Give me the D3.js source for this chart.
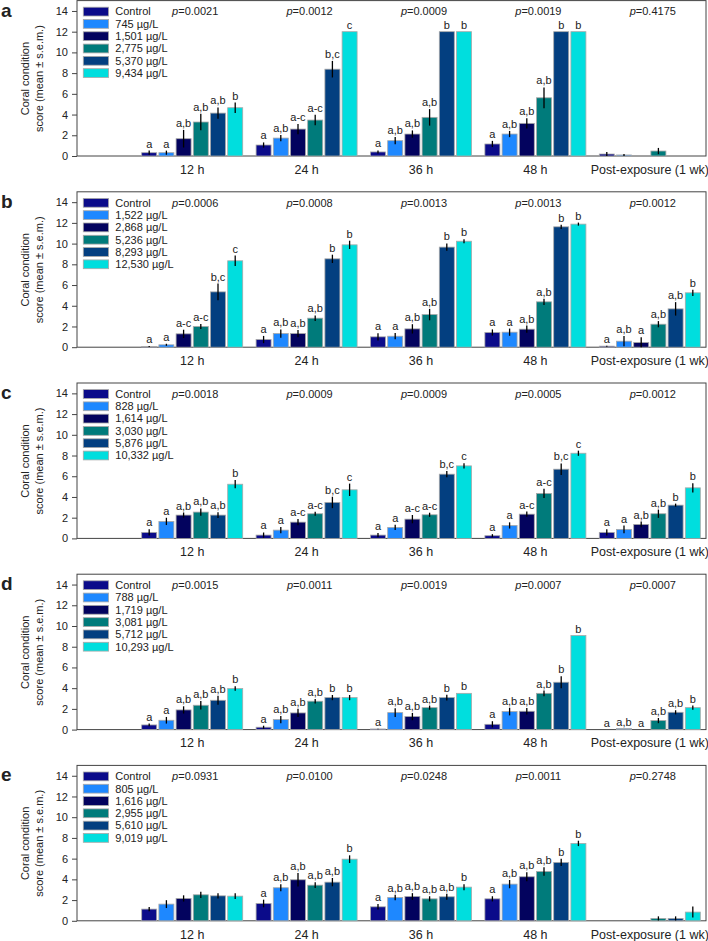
<!DOCTYPE html>
<html>
<head>
<meta charset="utf-8">
<script src="https://cdn.jsdelivr.net/npm/d3@7"></script>
<style>
  body { margin: 0; background: #fff; }
  text { font-family: "Liberation Sans", Arial, sans-serif; fill: #222; }
</style>
</head>
<body>
<div id="chart"></div>
<script>
// time points shared by all panels
const timepoints = ["12 h", "24 h", "36 h", "48 h", "Post-exposure (1 wk)"];
const panelLetters = ["a", "b", "c", "d", "e"];
const seriesColors = ["#0b0b8a", "#1e88ff", "#03035e", "#007b7b", "#033f80", "#00dede"];

// legend labels per panel
const concA = ["Control", "745 µg/L", "1,501 µg/L", "2,775 µg/L", "5,370 µg/L", "9,434 µg/L"];
const concB = ["Control", "1,522 µg/L", "2,868 µg/L", "5,236 µg/L", "8,293 µg/L", "12,530 µg/L"];
const concC = ["Control", "828 µg/L", "1,614 µg/L", "3,030 µg/L", "5,876 µg/L", "10,332 µg/L"];
const concD = ["Control", "788 µg/L", "1,719 µg/L", "3,081 µg/L", "5,712 µg/L", "10,293 µg/L"];
const concE = ["Control", "805 µg/L", "1,616 µg/L", "2,955 µg/L", "5,610 µg/L", "9,019 µg/L"];

// p-values per time point
const pA = ["0.0021", "0.0012", "0.0009", "0.0019", "0.4175"];
const pB = ["0.0006", "0.0008", "0.0013", "0.0013", "0.0012"];
const pC = ["0.0018", "0.0009", "0.0009", "0.0005", "0.0012"];
const pD = ["0.0015", "0.0011", "0.0019", "0.0007", "0.0007"];
const pE = ["0.0931", "0.0100", "0.0248", "0.0011", "0.2748"];

// means: rows = time points, cols = concentrations
const meanA = [
  [0.32, 0.32, 1.67, 3.28, 4.14, 4.66],
  [1.06, 1.73, 2.6, 3.47, 8.38, 12.0],
  [0.39, 1.48, 2.12, 3.73, 12.0, 12.0],
  [1.16, 2.12, 3.15, 5.62, 12.0, 12.0],
  [0.19, 0.1, 0, 0.48, 0, 0]
];
const errA = [
  [0.2, 0.2, 0.85, 0.8, 0.55, 0.5],
  [0.25, 0.3, 0.5, 0.5, 0.8, 0],
  [0.15, 0.35, 0.35, 0.8, 0, 0],
  [0.3, 0.3, 0.5, 1.0, 0, 0],
  [0.2, 0.1, 0, 0.3, 0, 0]
];
const letA = [
  ["a", "a", "a,b", "a,b", "a,b", "b"],
  ["a", "a,b", "a-c", "a-c", "b,c", "c"],
  ["a", "a,b", "a,b", "a,b", "b", "b"],
  ["a", "a,b", "a,b", "a,b", "b", "b"],
  ["", "", "", "", "", ""]
];

const meanB = [
  [0.06, 0.23, 1.29, 2.0, 5.34, 8.34],
  [0.74, 1.32, 1.32, 2.8, 8.53, 9.88],
  [1.0, 1.06, 1.77, 3.15, 9.66, 10.23],
  [1.42, 1.45, 1.74, 4.38, 11.62, 11.88],
  [0.1, 0.58, 0.45, 2.22, 3.7, 5.25]
];
const errB = [
  [0.05, 0.1, 0.4, 0.25, 0.8, 0.5],
  [0.35, 0.4, 0.35, 0.27, 0.4, 0.4],
  [0.35, 0.3, 0.45, 0.55, 0.35, 0.2],
  [0.3, 0.35, 0.35, 0.3, 0.2, 0.15],
  [0.05, 0.5, 0.5, 0.3, 0.65, 0.3]
];
const letB = [
  ["a", "a", "a-c", "a-c", "b,c", "c"],
  ["a", "a,b", "a,b", "a,b", "b", "b"],
  ["a", "a", "a,b", "a,b", "b", "b"],
  ["a", "a", "a,b", "a,b", "b", "b"],
  ["a", "a,b", "a", "a,b", "a,b", "b"]
];

const meanC = [
  [0.58, 1.64, 2.25, 2.54, 2.25, 5.23],
  [0.32, 0.8, 1.57, 2.38, 3.47, 4.69],
  [0.32, 1.06, 1.86, 2.28, 6.2, 7.0],
  [0.26, 1.25, 2.34, 4.34, 6.68, 8.22],
  [0.58, 0.87, 1.35, 2.38, 3.21, 4.88]
];
const errC = [
  [0.3, 0.35, 0.25, 0.35, 0.28, 0.4],
  [0.25, 0.3, 0.3, 0.2, 0.55, 0.6],
  [0.2, 0.25, 0.4, 0.2, 0.3, 0.25],
  [0.15, 0.3, 0.25, 0.45, 0.55, 0.25],
  [0.3, 0.37, 0.28, 0.4, 0.15, 0.45]
];
const letC = [
  ["a", "a", "a,b", "a,b", "a,b", "b"],
  ["a", "a", "a-c", "a-c", "b,c", "c"],
  ["a", "a", "a-c", "a-c", "b,c", "c"],
  ["a", "a", "a-c", "a-c", "b,c", "c"],
  ["a", "a", "a,b", "a,b", "b", "b"]
];

const meanD = [
  [0.45, 0.9, 1.9, 2.35, 2.83, 3.96],
  [0.23, 0.97, 1.61, 2.74, 3.09, 3.09],
  [0.06, 1.64, 1.26, 2.12, 3.09, 3.5],
  [0.51, 1.74, 1.77, 3.5, 4.57, 9.08],
  [0, 0.1, 0, 0.87, 1.67, 2.12]
];
const errD = [
  [0.13, 0.32, 0.35, 0.4, 0.43, 0.22],
  [0.15, 0.35, 0.4, 0.22, 0.25, 0.25],
  [0.03, 0.43, 0.35, 0.2, 0.28, 0],
  [0.3, 0.37, 0.32, 0.27, 0.58, 0],
  [0, 0, 0, 0.25, 0.2, 0.2]
];
const letD = [
  ["a", "a", "a,b", "a,b", "a,b", "b"],
  ["a", "a,b", "a,b", "a,b", "b", "b"],
  ["a", "a,b", "a,b", "a,b", "b", "b"],
  ["a", "a,b", "a,b", "a,b", "b", "b"],
  ["a", "a,b", "a", "a,b", "a,b", "b"]
];

const meanE = [
  [1.13, 1.61, 2.16, 2.51, 2.41, 2.38],
  [1.67, 3.19, 3.96, 3.44, 3.73, 5.95],
  [1.35, 2.25, 2.35, 2.12, 2.32, 3.25],
  [2.12, 3.54, 4.25, 4.76, 5.63, 7.47],
  [0, 0, 0, 0.23, 0.23, 0.84]
];
const errE = [
  [0.2, 0.38, 0.3, 0.3, 0.25, 0.27],
  [0.37, 0.33, 0.65, 0.27, 0.4, 0.37],
  [0.26, 0.27, 0.32, 0.25, 0.29, 0.29],
  [0.25, 0.4, 0.43, 0.42, 0.35, 0.26],
  [0, 0, 0, 0.2, 0.2, 0.53]
];
const letE = [
  ["", "", "", "", "", ""],
  ["a", "a,b", "a,b", "a,b", "a,b", "b"],
  ["a", "a,b", "a,b", "a,b", "a,b", "b"],
  ["a", "a,b", "a,b", "a,b", "b", "b"],
  ["", "", "", "", "", ""]
];

const yTicks = [0, 2, 4, 6, 8, 10, 12, 14];

const panels = [
  { conc: concA, mean: meanA, err: errA, lets: letA, p: pA },
  { conc: concB, mean: meanB, err: errB, lets: letB, p: pB },
  { conc: concC, mean: meanC, err: errC, lets: letC, p: pC },
  { conc: concD, mean: meanD, err: errD, lets: letD, p: pD },
  { conc: concE, mean: meanE, err: errE, lets: letE, p: pE }
];

const W = 708, H = 941;
const plotLeft = 77, plotRight = 706, plotH = 155.4, panelStep = 191.2;

const svg = d3.select("#chart").append("svg").attr("width", W).attr("height", H);

// outer band for time points, inner band for concentrations
const x = d3.scaleBand().domain(timepoints).range([135, 707]).paddingInner(0.117).paddingOuter(0.0585);
const xi = d3.scaleBand().domain(d3.range(6)).range([0, x.bandwidth()]).paddingInner(0.128);

panels.forEach((pn, pi) => {
  const top = 0.6 + pi * panelStep;
  const y = d3.scaleLinear().domain([0, 15]).range([top + plotH, top]);
  const g = svg.append("g");

  // frame
  g.append("rect")
    .attr("x", plotLeft).attr("y", top)
    .attr("width", plotRight - plotLeft).attr("height", plotH)
    .attr("fill", "none").attr("stroke", "#444").attr("stroke-width", 1);

  // y axis
  const ya = g.append("g").attr("transform", `translate(${plotLeft},0)`)
    .call(d3.axisLeft(y).tickValues(yTicks).tickSize(5).tickPadding(4).tickSizeOuter(0));
  ya.select(".domain").remove();
  ya.selectAll("line").attr("stroke", "#444");
  ya.selectAll("text").style("font-size", "11px").attr("fill", "#222");

  // x axis labels
  const xa = g.append("g").attr("transform", `translate(0,${top + plotH})`)
    .call(d3.axisBottom(x).tickSize(0).tickPadding(9));
  xa.select(".domain").remove();
  xa.selectAll("text").style("font-size", "12.5px").attr("fill", "#222");

  // y title
  const ym = top + 78;
  g.append("text").attr("transform", `translate(29,${ym}) rotate(-90)`)
    .attr("text-anchor", "middle").style("font-size", "11px").text("Coral condition");
  g.append("text").attr("transform", `translate(43,${ym}) rotate(-90)`)
    .attr("text-anchor", "middle").style("font-size", "11px").text("score (mean ± s.e.m.)");

  // panel letter
  g.append("text").attr("x", 1).attr("y", top + 16)
    .style("font-size", "19px").style("font-weight", "bold").attr("fill", "#111")
    .text(panelLetters[pi]);

  // bars
  timepoints.forEach((tp, ti) => {
    const grp = g.append("g").attr("transform", `translate(${x(tp)},0)`);
    pn.mean[ti].forEach((v, si) => {
      const bx = xi(si), bw = xi.bandwidth();
      if (v > 0) {
        grp.append("rect")
          .attr("x", bx).attr("y", y(v))
          .attr("width", bw).attr("height", y(0) - y(v))
          .attr("fill", seriesColors[si]).attr("stroke", "#a8a8a8").attr("stroke-width", 0.8);
      }
      const e = pn.err[ti][si];
      if (e > 0) {
        grp.append("line")
          .attr("x1", bx + bw / 2).attr("x2", bx + bw / 2)
          .attr("y1", y(Math.max(0, v - e))).attr("y2", y(v + e))
          .attr("stroke", "#000").attr("stroke-width", 1.3);
      }
      const lab = pn.lets[ti][si];
      if (lab) {
        grp.append("text")
          .attr("x", bx + bw / 2).attr("y", y(v + e) - 3)
          .attr("text-anchor", "middle").style("font-size", "11px")
          .text(lab);
      }
    });

    // p-value
    const pt = g.append("text")
      .attr("x", x(tp) + x.bandwidth() / 2 + 3).attr("y", top + 11)
      .attr("dy", "0.35em").attr("text-anchor", "middle").style("font-size", "11px");
    pt.append("tspan").style("font-style", "italic").text("p");
    pt.append("tspan").text("=" + pn.p[ti]);
  });

  // legend
  const leg = g.append("g").attr("transform", `translate(83.3,${top + 11})`);
  pn.conc.forEach((c, si) => {
    leg.append("rect")
      .attr("x", 0).attr("y", si * 12.3 - 4.4)
      .attr("width", 25.3).attr("height", 8.8)
      .attr("fill", seriesColors[si]).attr("stroke", "#a8a8a8").attr("stroke-width", 0.8);
    leg.append("text")
      .attr("x", 32).attr("y", si * 12.3).attr("dy", "0.35em")
      .style("font-size", "11px").text(c);
  });
});
</script>
</body>
</html>
